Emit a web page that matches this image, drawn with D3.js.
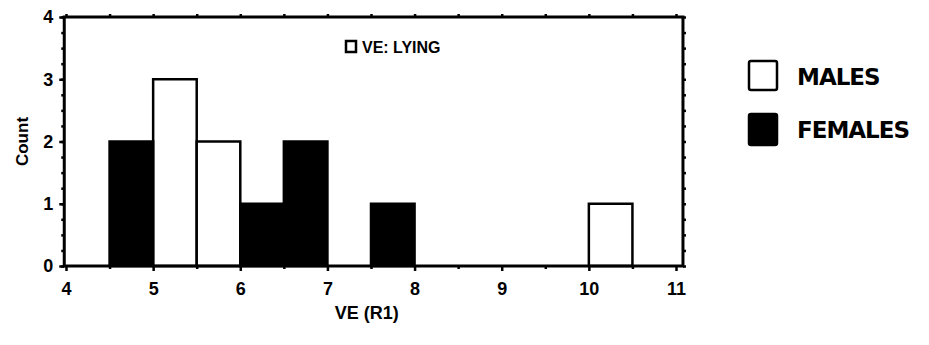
<!DOCTYPE html>
<html>
<head>
<meta charset="utf-8">
<script src="https://cdn.jsdelivr.net/npm/d3@7"></script>
<style>
  body { margin: 0; background: #fff; }
  text { font-family: "Liberation Sans", Arial, sans-serif; fill: #000; }
  .tick text { font-weight: bold; font-size: 18px; }
  .hand { font-family: "DejaVu Sans", sans-serif; font-size: 23px; font-weight: bold; letter-spacing: -1px; }
</style>
</head>
<body>
<div id="chart"></div>
<script>
// histogram bins of VE (R1), width 0.5
const malesBins = [5, 5.5, 10]
const malesCounts = [3, 2, 1]
const femalesBins = [4.5, 6, 6.5, 7.5]
const femalesCounts = [2, 1, 2, 1]
const xTicks = [4, 5, 6, 7, 8, 9, 10, 11]
const yTicks = [0, 1, 2, 3, 4]
const binWidth = 0.5
const legendLabels = ['MALES', 'FEMALES']

const width = 929
const height = 345

const svg = d3.select('#chart').append('svg')
    .attr('width', width).attr('height', height)

const x = d3.scaleLinear().domain([4, 11]).range([66, 676])
const y = d3.scaleLinear().domain([0, 4]).range([266, 17])
const xMin = 3.98, xMax = 11.08

// bars
const bars = svg.append('g')
const drawBars = (bins, counts, fill) => {
    bars.selectAll(null)
        .data(bins.map((b, i) => ({ b: b, c: counts[i] })))
        .join('rect')
        .attr('x', d => x(d.b))
        .attr('y', d => y(d.c))
        .attr('width', d => x(d.b + binWidth) - x(d.b))
        .attr('height', d => y(0) - y(d.c))
        .attr('fill', fill)
        .attr('stroke', '#000')
        .attr('stroke-width', 2.5)
}
drawBars(malesBins, malesCounts, '#fff')
drawBars(femalesBins, femalesCounts, '#000')

// frame
svg.append('rect')
    .attr('x', x(xMin)).attr('y', y(4))
    .attr('width', x(xMax) - x(xMin)).attr('height', y(0) - y(4))
    .attr('fill', 'none').attr('stroke', '#000').attr('stroke-width', 3)

// axes
const xAxis = d3.axisBottom(x).tickValues(xTicks).tickSize(5).tickPadding(8)
    .tickFormat(d3.format('d'))
svg.append('g').attr('transform', `translate(0,${y(0)})`).call(xAxis)
    .call(g => g.select('.domain').remove())
    .call(g => g.selectAll('.tick line').attr('stroke-width', 2.5))
    .call(g => g.selectAll('.tick text').attr('dy', '0.9em'))

const minorX = d3.range(4, 11.01, 0.5)
svg.append('g').attr('transform', `translate(0,${y(4)})`)
    .call(d3.axisTop(x).tickValues(minorX).tickSize(3).tickFormat(''))
    .call(g => g.select('.domain').remove())
    .call(g => g.selectAll('.tick line').attr('stroke-width', 2.5))
svg.append('g').attr('transform', `translate(0,${y(0)})`)
    .call(d3.axisBottom(x).tickValues(minorX.filter(v => v % 1 != 0)).tickSize(3).tickFormat(''))
    .call(g => g.select('.domain').remove())
    .call(g => g.selectAll('.tick line').attr('stroke-width', 2.5))

const yAxis = d3.axisLeft(y).tickValues(yTicks).tickSize(5).tickPadding(6)
    .tickFormat(d3.format('d'))
svg.append('g').attr('transform', `translate(${x(xMin)},0)`).call(yAxis)
    .call(g => g.select('.domain').remove())
    .call(g => g.selectAll('.tick line').attr('stroke-width', 2.5))

const minorY = d3.range(0, 4.01, 0.25)
svg.append('g').attr('transform', `translate(${x(xMin)},0)`)
    .call(d3.axisLeft(y).tickValues(minorY).tickSize(3).tickFormat(''))
    .call(g => g.select('.domain').remove())
    .call(g => g.selectAll('.tick line').attr('stroke-width', 2.5))
svg.append('g').attr('transform', `translate(${x(xMax)},0)`)
    .call(d3.axisRight(y).tickValues(minorY).tickSize(3).tickFormat(''))
    .call(g => g.select('.domain').remove())
    .call(g => g.selectAll('.tick line').attr('stroke-width', 2.5))

// axis titles
svg.append('text')
    .attr('transform', `translate(28,${y(2)}) rotate(-90)`)
    .attr('text-anchor', 'middle')
    .style('font-weight', 'bold').style('font-size', '17px')
    .text('Count')
svg.append('text')
    .attr('x', x(7.45)).attr('y', 319)
    .attr('text-anchor', 'middle')
    .style('font-size', '18px').style('font-weight', 'bold')
    .text('VE (R1)')

// inner title
svg.append('rect')
    .attr('x', 346).attr('y', 41).attr('width', 10).attr('height', 11)
    .attr('fill', 'none').attr('stroke', '#000').attr('stroke-width', 2.5)
svg.append('text')
    .attr('x', 362).attr('y', 53)
    .style('font-size', '16px').style('font-weight', 'bold')
    .text('VE: LYING')

// legend
const legend = svg.append('g').attr('transform', 'translate(749,61)')
legend.selectAll('rect')
    .data(legendLabels)
    .join('rect')
    .attr('x', 0).attr('y', (d, i) => i * 53)
    .attr('width', 28).attr('height', (d, i) => i ? 31 : 29)
    .attr('rx', 2)
    .attr('fill', (d, i) => i ? '#000' : '#fff')
    .attr('stroke', '#000').attr('stroke-width', 2.5)
legend.selectAll('text')
    .data(legendLabels)
    .join('text')
    .attr('class', 'hand')
    .attr('x', 48).attr('y', (d, i) => i * 53 + 24)
    .text(d => d)
</script>
</body>
</html>
